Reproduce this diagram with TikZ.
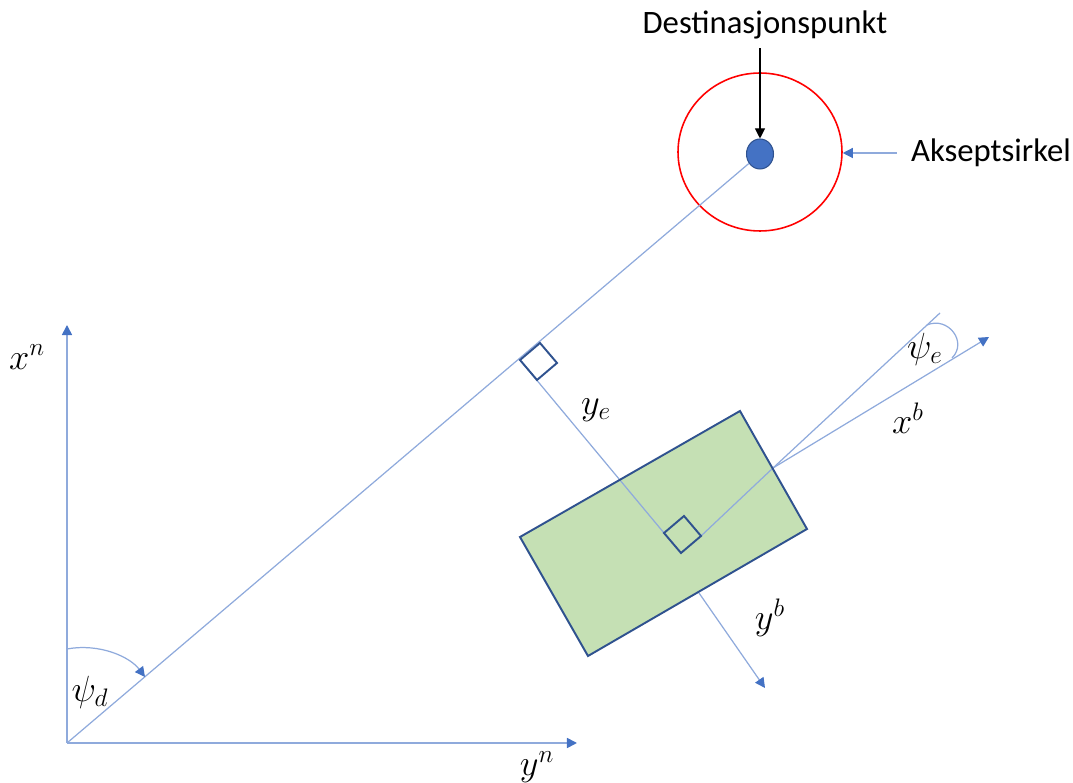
\documentclass[tikz,border=0pt]{standalone}
\usepackage{fontspec}
\setmainfont{Carlito}
\usetikzlibrary{arrows.meta,shapes.geometric}
\definecolor{lineblue}{HTML}{8FAADC}
\definecolor{headblue}{HTML}{4472C4}
\definecolor{darkblue}{HTML}{2F528F}
\definecolor{bodygreen}{HTML}{C5E0B4}
\definecolor{circred}{HTML}{FF0000}
\begin{document}
\begin{tikzpicture}[x=0.02cm,y=-0.02cm,
  thinline/.style={lineblue, line width=0.7pt},
  axisline/.style={lineblue, line width=0.95pt},
  bluetip/.style={-{Triangle[length=5.7pt,width=5.7pt,color=headblue]}},
  darkbox/.style={darkblue, line width=1.1pt},
  mathlbl/.style={font=\fontsize{22}{26}\selectfont, inner sep=0pt},
  textlbl/.style={font=\fontsize{18.6}{22}\selectfont, inner sep=0pt}]

\useasboundingbox (0,0) rectangle (1073,783);

% key points
\coordinate (O) at (67,743);
\coordinate (xn) at (67,325);
\coordinate (yn) at (577,743);
\coordinate (F) at (520,360);
\coordinate (C) at (664,533);
\coordinate (Hs) at (701,536);
\coordinate (H) at (773,468);
\coordinate (Hend) at (940,313);
\coordinate (xb) at (989,337);
\coordinate (ybs) at (699,593);
\coordinate (yb) at (765,688);
\coordinate (b1) at (520,537);
\coordinate (b2) at (740,411);
\coordinate (b3) at (807,529);
\coordinate (b4) at (588,656);
\coordinate (psidA) at (67,649);
\coordinate (psidB) at (145,677);
\coordinate (psieA) at (927,325);
\coordinate (psieB) at (952,358);

% destination, circle, labels
\node[ellipse, draw=circred, line width=0.9pt, minimum width=3.28cm, minimum height=3.16cm, inner sep=0pt] (circ) at (760,152) {};
\node[ellipse, fill=headblue, draw=darkblue, line width=0.6pt, minimum width=0.54cm, minimum height=0.6cm, inner sep=0pt] (dot) at (760,154) {};
\node[textlbl] (dest) at (765,25) {Destinasjonspunkt};
\node[textlbl] (aks) at (991,153) {Akseptsirkel};

\draw[black, line width=0.6pt, shorten <=5pt, -{Triangle[length=5.7pt,width=5.7pt]}] (dot |- dest.south) -- (dot.north);
\draw[thinline, bluetip, shorten <=8pt] (aks.west) -- (circ.east |- aks.west);

% axes
\draw[axisline, bluetip] (O) -- (xn);
\draw[axisline, bluetip] (O) -- (yn);

% line of sight
\draw[thinline] (O) -- (dot);

% body
\fill[bodygreen] (b1) -- (b2) -- (b3) -- (b4) -- cycle;

% perpendicular (cross-track)
\draw[thinline] (F) -- (C);
% heading lines
\draw[thinline] (Hs) -- (H) -- (Hend);
\draw[thinline, bluetip] (H) -- (xb);
\draw[thinline, bluetip] (ybs) -- (yb);

\draw[darkbox, line join=miter] (b1) -- (b2) -- (b3) -- (b4) -- cycle;

% right-angle markers
\draw[darkbox] (520,360) -- (540,343) -- (557,363) -- (537,380) -- cycle;
\draw[darkbox] (664,533) -- (684,516) -- (701,536) -- (681,553) -- cycle;

% angle arcs
\draw[thinline, bluetip] (psidA) .. controls (100,643) and (130,657) .. (psidB);
\draw[thinline] (psieA) .. controls (948,316) and (968,342) .. (psieB);

% math labels
\node[mathlbl] (lxn) at (27,357) {$x^n$};
\node[mathlbl] (lyn) at (537,767) {$y^n$};
\node[mathlbl] (lpsid) at (90,692) {$\psi_d$};
\node[mathlbl] (lye) at (596,410) {$y_e$};
\node[mathlbl] (lpsie) at (925,349) {$\psi_e$};
\node[mathlbl] (lxb) at (908,418) {$x^b$};
\node[mathlbl] (lyb) at (770,618) {$y^b$};
\end{tikzpicture}
\end{document}
